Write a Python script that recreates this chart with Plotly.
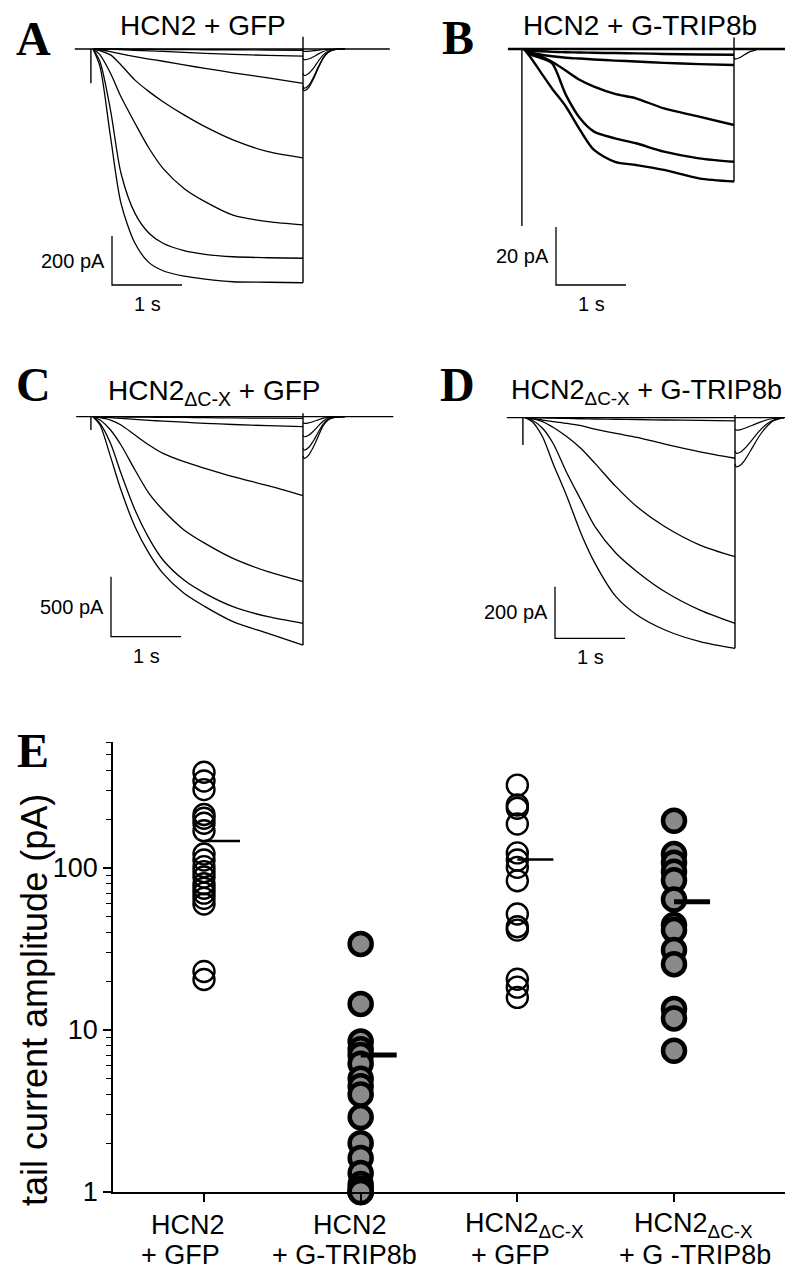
import math
import plotly.graph_objects as go

# page is 794x1280; the browser body keeps its default 8 px margin,
# so the figure itself is 16 px smaller and everything is offset by 8 px.
PAGE_W, PAGE_H = 794, 1280
OFF = 8
FW, FH = PAGE_W - 2 * OFF, PAGE_H - 2 * OFF


def fx(x):
    return (x - OFF) / FW


def fy(y):
    return 1 - (y - OFF) / FH


# ---------------- DATA ----------------
# time bases (s)
t_pulse = [0, 0.1, 0.25, 0.4, 0.6, 0.8, 1.0, 1.3, 1.6, 2.0, 2.5, 3.0]
t_tail = [3.0, 3.02, 3.08, 3.15, 3.22, 3.29, 3.36, 3.45, 3.6]
t_tail_D = [3.0, 3.02, 3.08, 3.15, 3.25, 3.35, 3.45, 3.55, 3.7]

# Panel A: HCN2 + GFP (pA)
A_pulse = [
    [0, -72, -358, -630, -793, -872, -905, -927, -939, -950, -952, -954],
    [0, -52, -249, -507, -671, -752, -793, -823, -838, -848, -852, -854],
    [0, -24, -99, -195, -303, -405, -487, -569, -623, -678, -705, -718],
    [0, -7, -24, -65, -127, -174, -215, -269, -317, -371, -419, -444],
    [0, -3, -11, -20, -31, -41, -50, -65, -79, -97, -118, -140],
    [0, 0, -1, -2, -5, -8, -10, -14, -18, -22, -26, -29],
    [0, 0, 0, 0, -1, -1, -2, -2, -3, -3, -4, -5],
]
A_tail = [
    [-160, -170, -158, -122, -77, -37, -14, -3, 0],
    [-150, -160, -149, -115, -72, -35, -13, -3, 0],
    [-100, -108, -100, -78, -49, -24, -9, -2, 0],
    [-40, -44, -41, -32, -20, -10, -4, -1, 0],
    [-8, -10, -9, -7, -5, -2, -1, 0, 0],
]

# Panel B: HCN2 + G-TRIP8b (pA)
B_pulse = [
    [0, -3.1, -8.4, -13.6, -19.9, -27.9, -34.8, -38.9, -40.0, -41.7, -44.6, -45.7],
    [0, -2.0, -3.2, -4.9, -15.9, -23.9, -28.5, -30.8, -32.5, -35.4, -37.7, -38.9],
    [0, -1.4, -2.6, -4.4, -7.5, -10.7, -13.0, -15.5, -17.0, -20.5, -23.3, -26.2],
    [0, -1.2, -2.0, -2.5, -3.0, -3.3, -3.6, -4.0, -4.3, -4.8, -5.2, -5.5],
    [0, -0.5, -0.8, -1.0, -1.1, -1.2, -1.3, -1.4, -1.5, -1.7, -1.9, -2.0],
]
B_tail = [
    [-3.0, -3.5, -3.0, -2.0, -1.0, -0.5, 0, 0, 0],
]

# Panel C: HCN2dC-X + GFP (pA)
C_pulse = [
    [0, -69, -333, -611, -917, -1139, -1306, -1472, -1583, -1708, -1806, -1903],
    [0, -56, -222, -472, -778, -1014, -1194, -1361, -1472, -1583, -1667, -1722],
    [0, -28, -111, -236, -444, -639, -778, -944, -1056, -1181, -1292, -1375],
    [0, -8, -28, -69, -153, -236, -306, -375, -431, -500, -575, -658],
    [0, -3, -8, -14, -22, -30, -37, -46, -55, -65, -75, -83],
    [0, 0, -1, -2, -3, -4, -5, -6, -8, -10, -12, -14],
]
C_tail = [
    [-330, -347, -320, -250, -160, -75, -28, -6, 0],
    [-265, -278, -257, -200, -128, -60, -22, -5, 0],
    [-158, -167, -155, -120, -77, -36, -13, -3, 0],
    [-50, -56, -52, -40, -26, -12, -5, -1, 0],
]

# Panel D: HCN2dC-X + G-TRIP8b (pA)
D_pulse = [
    [0, -15, -74, -177, -306, -448, -564, -693, -764, -822, -867, -893],
    [0, -9, -41, -99, -215, -319, -422, -525, -596, -674, -745, -796],
    [0, -4, -15, -37, -74, -119, -177, -267, -345, -422, -493, -538],
    [0, -3, -9, -15, -22, -31, -44, -61, -76, -102, -132, -157],
    [0, 0, -1, -2, -3, -4, -5, -6, -7, -9, -10, -12],
]
D_tail = [
    [-180, -190, -183, -160, -115, -70, -35, -12, 0],
    [-130, -138, -133, -116, -84, -51, -25, -9, 0],
    [-45, -48, -46, -40, -29, -18, -9, -3, 0],
]

# holding segment spans (s) and capacitive spikes (pA)
hold_span = {"A": [-0.26, 4.24], "B": [-0.23, 3.77], "C": [-0.24, 4.29], "D": [-0.26, 3.77]}
start_spike = {"A": -140, "B": -61, "C": -111, "D": -106}
end_spike = {"A": 50, "B": 4, "C": 28, "D": 10}

# scale bars
scale_pA = {"A": 200, "B": 20, "C": 500, "D": 200}
scale_s = {"A": 1, "B": 1, "C": 1, "D": 1}

titles = {"A": "HCN2 + GFP", "B": "HCN2 + G-TRIP8b",
          "C": "HCN2<sub>ΔC-X</sub> + GFP", "D": "HCN2<sub>ΔC-X</sub> + G-TRIP8b"}

# Panel E: tail current amplitude (pA)
groups_line1 = ["HCN2", "HCN2", "HCN2<sub>ΔC-X</sub>", "HCN2<sub>ΔC-X</sub>"]
groups_line2 = ["+ GFP", "+ G-TRIP8b", "+ GFP", "+ G -TRIP8b"]
g1 = [390, 345, 305, 214, 203, 189, 170, 122, 112, 102, 95, 88, 80, 75, 70, 65, 60, 23, 20.5]
g2 = [34, 14.5, 8.5, 7.6, 7.0, 6.2, 5.0, 4.5, 4.0, 2.9, 2.0, 1.62, 1.31, 1.12, 1.05, 1.0, 1.0, 1.0]
g3 = [325, 245, 234, 187, 124, 112, 101, 83.5, 52, 43.4, 41.4, 20.6, 18.4, 15.9]
g4 = [196, 122, 108, 95, 84, 64, 44.5, 41.4, 31.2, 25.5, 13.5, 11.8, 7.45]
group_means = [147, 7.0, 113, 62]
filled = [False, True, False, True]
y_major = [1, 10, 100]
y_minor = [2, 3, 4, 5, 6, 7, 8, 9, 20, 30, 40, 50, 60, 70, 80, 90, 200, 300, 400, 500, 600]

# ---------------- LAYOUT GEOMETRY (page px) ----------------
geom = {
    "A": dict(box=(60, 395, 9, 330), t0=93, sx=70, base=49, sy=0.245, bar=(112, 285), lw=1.3),
    "B": dict(box=(480, 785, 9, 330), t0=524, sx=70, base=49, sy=2.9, bar=(556, 285), lw=2.4),
    "C": dict(box=(60, 396, 340, 680), t0=93, sx=70, base=416.7, sy=0.12, bar=(111, 636.7), lw=1.3),
    "D": dict(box=(480, 785, 340, 680), t0=525, sx=70, base=417.7, sy=0.2583, bar=(555, 638.3), lw=1.3),
}
title_pos = {"A": (203, 26), "B": (640, 26), "C": (214, 392), "D": (646, 392)}
title_size = {"A": 28, "B": 28, "C": 28, "D": 27}
letter_pos = {"A": (34, 38), "B": (458, 37), "C": (33, 385), "D": (457, 385), "E": (33, 750)}

SANS = "Liberation Sans, Arial, sans-serif"
SERIF = "Liberation Serif, Times New Roman, serif"

fig = go.Figure()
layout = dict(width=FW, height=FH, margin=dict(l=0, r=0, t=0, b=0),
              paper_bgcolor="white", plot_bgcolor="rgba(0,0,0,0)", showlegend=False)
annotations = []

pulses = {"A": A_pulse, "B": B_pulse, "C": C_pulse, "D": D_pulse}
tails = {"A": (A_tail, t_tail), "B": (B_tail, t_tail), "C": (C_tail, t_tail), "D": (D_tail, t_tail_D)}

for i, key in enumerate(["A", "B", "C", "D"], start=1):
    g = geom[key]
    x0, x1, y0, y1 = g["box"]
    xr = [(x0 - g["t0"]) / g["sx"], (x1 - g["t0"]) / g["sx"]]
    yr = [-(y1 - g["base"]) / g["sy"], (g["base"] - y0) / g["sy"]]
    layout[f"xaxis{i}"] = dict(domain=[fx(x0), fx(x1)], range=xr, visible=False, anchor=f"y{i}")
    layout[f"yaxis{i}"] = dict(domain=[fy(y1), fy(y0)], range=yr, visible=False, anchor=f"x{i}")
    xa, ya = f"x{i}", f"y{i}"
    lw = g["lw"]
    line = dict(color="black", width=lw)
    fig.add_trace(go.Scatter(x=hold_span[key], y=[0, 0], mode="lines", line=line, xaxis=xa, yaxis=ya, hoverinfo="skip"))
    for cur in pulses[key]:
        fig.add_trace(go.Scatter(x=t_pulse, y=cur, mode="lines",
                                 line=dict(color="black", width=lw, shape="spline", smoothing=0.8),
                                 xaxis=xa, yaxis=ya, hoverinfo="skip"))
    tl, tt = tails[key]
    for cur in tl:
        fig.add_trace(go.Scatter(x=tt, y=cur, mode="lines",
                                 line=dict(color="black", width=1.2, shape="spline", smoothing=0.8),
                                 xaxis=xa, yaxis=ya, hoverinfo="skip"))
    fig.add_trace(go.Scatter(x=[-0.03, -0.03], y=[0, start_spike[key]], mode="lines",
                             line=dict(color="black", width=1.4), xaxis=xa, yaxis=ya, hoverinfo="skip"))
    lowest = min(c[-1] for c in pulses[key])
    fig.add_trace(go.Scatter(x=[t_pulse[-1], t_pulse[-1]], y=[lowest, end_spike[key]], mode="lines",
                             line=dict(color="black", width=1.4), xaxis=xa, yaxis=ya, hoverinfo="skip"))
    bx, by = g["bar"]
    ct = (bx - g["t0"]) / g["sx"]
    cI = -(by - g["base"]) / g["sy"]
    fig.add_trace(go.Scatter(x=[ct, ct, ct + scale_s[key]], y=[cI + scale_pA[key], cI, cI], mode="lines",
                             line=dict(color="black", width=1.3), xaxis=xa, yaxis=ya, hoverinfo="skip"))
    annotations.append(dict(x=ct, y=cI + scale_pA[key] / 2, xref=xa, yref=ya, xanchor="right", yanchor="middle",
                            xshift=-5, text=f"{scale_pA[key]} pA", showarrow=False,
                            font=dict(family=SANS, size=20, color="black")))
    annotations.append(dict(x=ct + scale_s[key] / 2, y=cI, xref=xa, yref=ya, xanchor="center", yanchor="top",
                            yshift=-6, text=f"{scale_s[key]} s", showarrow=False,
                            font=dict(family=SANS, size=20, color="black")))
    tx, ty = title_pos[key]
    annotations.append(dict(x=fx(tx), y=fy(ty), xref="paper", yref="paper", xanchor="center", yanchor="middle",
                            text=titles[key], showarrow=False,
                            font=dict(family=SANS, size=title_size[key], color="black")))

for key, (lx, ly) in letter_pos.items():
    annotations.append(dict(x=fx(lx), y=fy(ly), xref="paper", yref="paper", xanchor="center", yanchor="middle",
                            text=f"<b>{key}</b>", showarrow=False, font=dict(family=SERIF, size=48, color="black")))

# ---------------- PANEL E ----------------
ex0, ex1 = 113, 785
ey_bottom, ey_top = 1192, 742
cat_px = (204, 674)
unit = (cat_px[1] - cat_px[0]) / 3
xa_lo = 1 - (cat_px[0] - ex0) / unit
xa_hi = xa_lo + (ex1 - ex0) / unit
layout["xaxis5"] = dict(domain=[fx(ex0), fx(ex1)], range=[xa_lo, xa_hi], anchor="y5",
                        showline=True, linecolor="black", linewidth=1.5, ticks="outside", ticklen=8,
                        tickwidth=1.5, tickcolor="black", tickvals=[1, 2, 3, 4], showticklabels=False,
                        showgrid=False, zeroline=False, automargin=False)
layout["yaxis5"] = dict(domain=[fy(ey_bottom), fy(ey_top)], type="log", range=[0, math.log10(600)],
                        anchor="x5", showline=True, linecolor="black", linewidth=1.5, ticks="outside",
                        ticklen=8, tickwidth=1.5, tickcolor="black", tickvals=y_major,
                        ticktext=[str(v) for v in y_major], showgrid=False, zeroline=False, automargin=False,
                        tickfont=dict(family=SANS, size=27, color="black"),
                        minor=dict(tickmode="array", tickvals=y_minor, ticks="outside", ticklen=5,
                                   tickwidth=1.3, tickcolor="black", showgrid=False))

for gi, vals in enumerate([g1, g2, g3, g4], start=1):
    if filled[gi - 1]:
        mk = dict(symbol="circle", size=22, color="#8a8a8a", line=dict(color="black", width=4.5))
    else:
        mk = dict(symbol="circle", size=21, color="rgba(255,255,255,0)", line=dict(color="black", width=2.4))
    fig.add_trace(go.Scatter(x=[gi] * len(vals), y=vals, mode="markers", marker=mk, cliponaxis=False,
                             xaxis="x5", yaxis="y5", hoverinfo="skip"))
for gi, m in enumerate(group_means, start=1):
    fig.add_trace(go.Scatter(x=[gi, gi + 0.23], y=[m, m], mode="lines",
                             line=dict(color="black", width=5 if filled[gi - 1] else 2.5),
                             cliponaxis=False, xaxis="x5", yaxis="y5", hoverinfo="skip"))

line1_px = [188, 350, 524, 693]
line2_px = [180, 344, 510, 695]
for gi in range(4):
    annotations.append(dict(x=fx(line1_px[gi]), y=fy(1225), xref="paper", yref="paper", xanchor="center",
                            yanchor="middle", text=groups_line1[gi], showarrow=False,
                            font=dict(family=SANS, size=27, color="black")))
    annotations.append(dict(x=fx(line2_px[gi]), y=fy(1255), xref="paper", yref="paper", xanchor="center",
                            yanchor="middle", text=groups_line2[gi], showarrow=False,
                            font=dict(family=SANS, size=27, color="black")))

annotations.append(dict(x=fx(34), y=fy(1000), xref="paper", yref="paper", xanchor="center", yanchor="middle",
                        text="tail current amplitude (pA)", textangle=-90, showarrow=False,
                        font=dict(family=SANS, size=36, color="black")))

layout["annotations"] = annotations
fig.update_layout(**layout)
fig.write_html("out.html", config={"displayModeBar": False})
